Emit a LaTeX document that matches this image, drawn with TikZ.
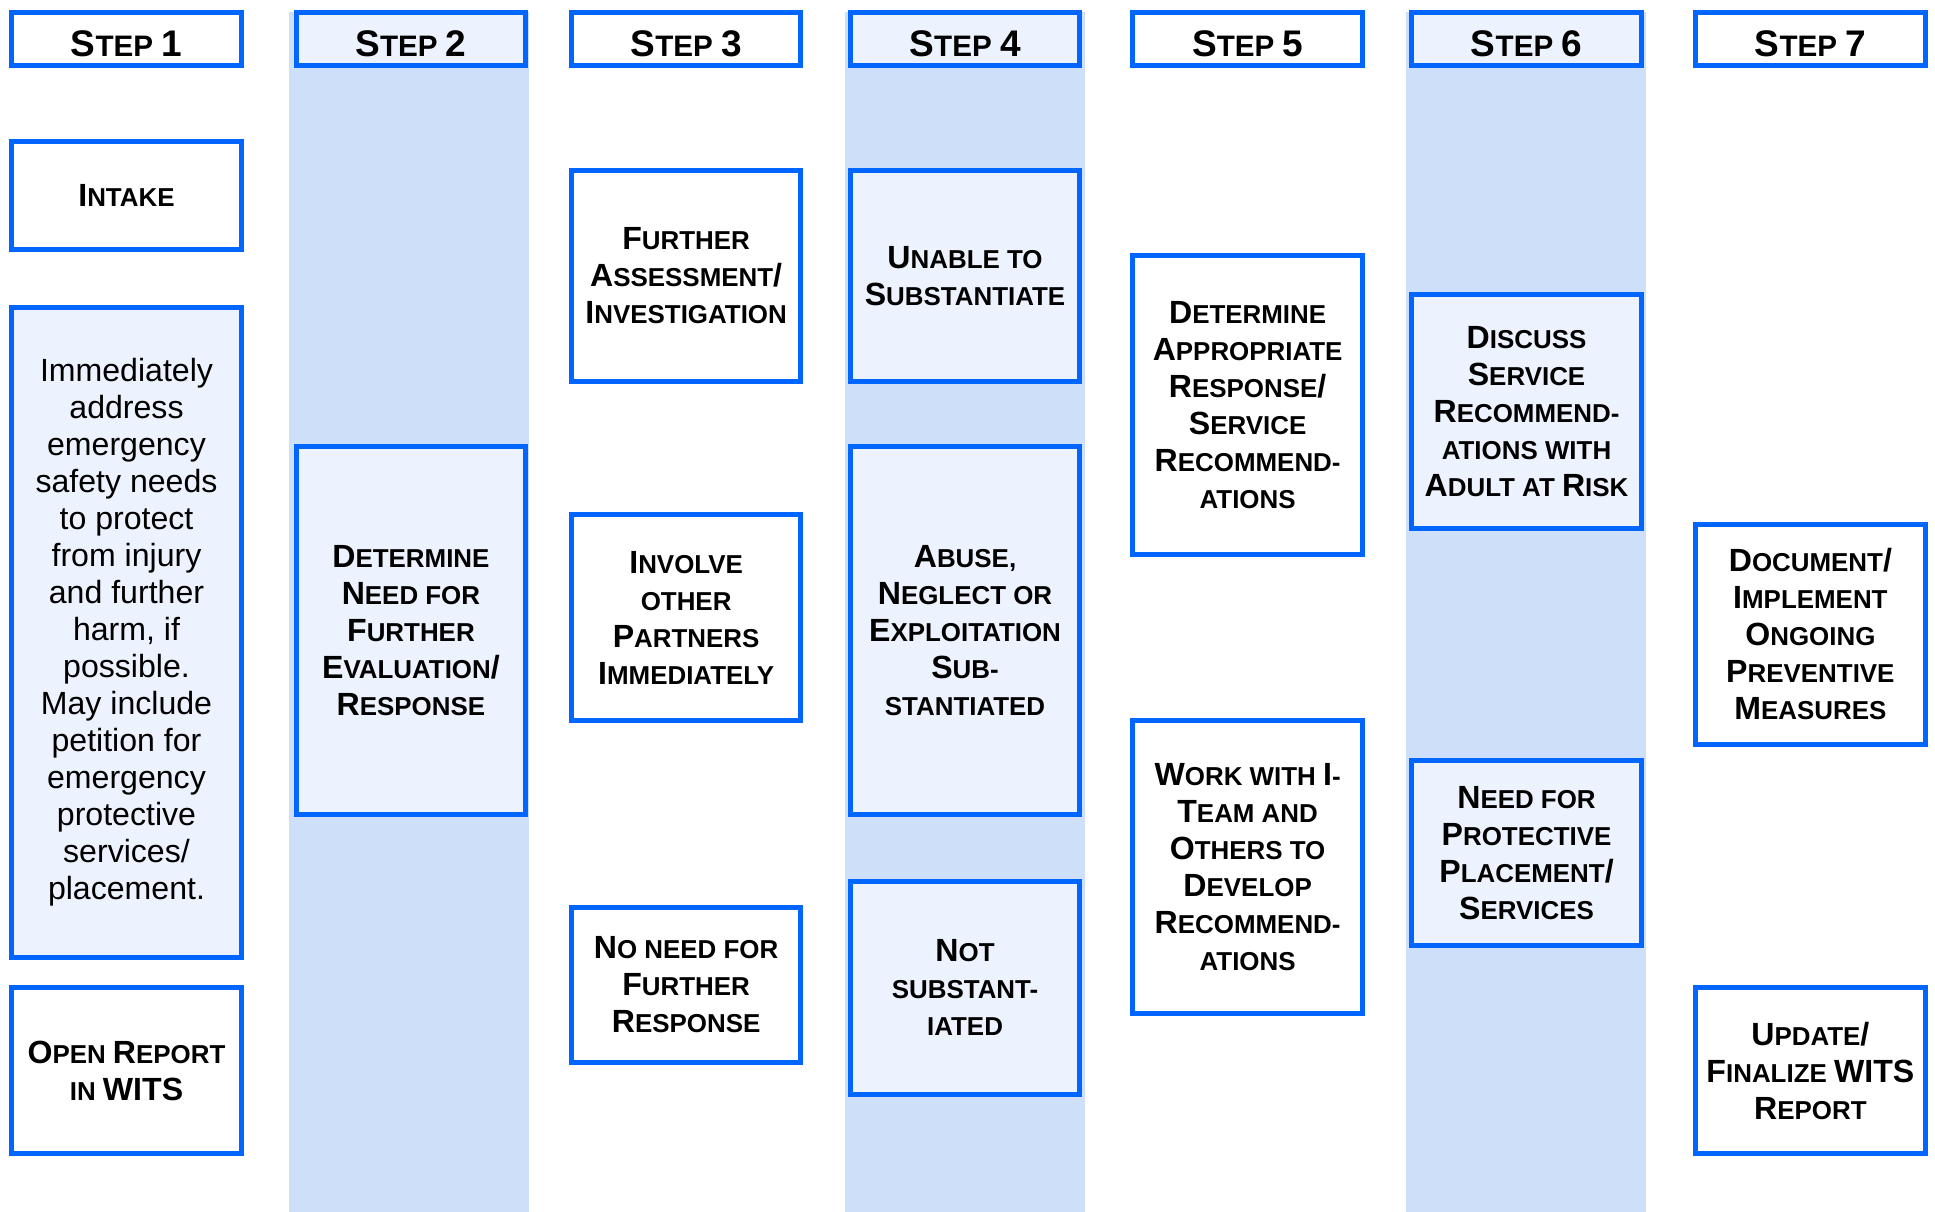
\documentclass[tikz,border=0pt]{standalone}
\usepackage{fontspec}
\setmainfont{Liberation Sans}
\definecolor{bord}{RGB}{0,102,255}
\definecolor{stripe}{RGB}{206,223,250}
\definecolor{inner}{RGB}{236,243,254}
\newcommand\Cp[1]{{\fontsize{26}{30}\selectfont #1}}
\newcommand\Hp[1]{{\fontsize{30}{34}\selectfont #1}}
\tikzset{
  box/.style={draw=bord, line width=4pt, fill=white, minimum width=186pt,
    align=center, inner sep=0pt, font=\fontsize{21}{30}\selectfont\bfseries},
  shaded/.style={fill=inner},
  headbox/.style={box, minimum height=43pt, text height=28pt, text depth=0pt,
    font=\fontsize{24}{34}\selectfont\bfseries},
  notebox/.style={box, font=\fontsize{26}{30}\selectfont},
  stripebg/.style={fill=stripe}
}
\begin{document}
\begin{tikzpicture}[x=1pt,y=-1pt]
\useasboundingbox (0,0) rectangle (1568,982);
% stripes
\fill[stripebg] (234,10) rectangle (429,982);
\fill[stripebg] (685,10) rectangle (879,982);
\fill[stripebg] (1139,10) rectangle (1334,982);
% headers
\node[headbox] (h1) at (102.5,31.5) {\Hp{S}TEP \Hp{1}};
\node[headbox,shaded] (h2) at (333,31.5) {\Hp{S}TEP \Hp{2}};
\node[headbox] (h3) at (556,31.5) {\Hp{S}TEP \Hp{3}};
\node[headbox,shaded] (h4) at (782,31.5) {\Hp{S}TEP \Hp{4}};
\node[headbox] (h5) at (1011,31.5) {\Hp{S}TEP \Hp{5}};
\node[headbox,shaded] (h6) at (1237,31.5) {\Hp{S}TEP \Hp{6}};
\node[headbox] (h7) at (1467,31.5) {\Hp{S}TEP \Hp{7}};
% column 1
\node[box, minimum height=87pt] (intake) at (102.5,158.5) {\Cp{I}NTAKE};
\node[notebox, shaded, minimum height=527pt] (immediate) at (102.5,512.5)
  {Immediately\\address\\emergency\\safety needs\\to protect\\from injury\\and further\\harm, if\\possible.\\May include\\petition for\\emergency\\protective\\services/\\placement.};
\node[box, minimum height=135pt] (openrep) at (102.5,867.5) {\Cp{O}PEN \Cp{R}EPORT\\IN \Cp{WITS}};
% column 2
\node[box, shaded, minimum height=298pt] (determine) at (333,511)
  {\Cp{D}ETERMINE\\\Cp{N}EED FOR\\\Cp{F}URTHER\\\Cp{E}VALUATION\Cp{/}\\\Cp{R}ESPONSE};
% column 3
\node[box, minimum height=171pt] (further) at (556,223.5)
  {\Cp{F}URTHER\\\Cp{A}SSESSMENT\Cp{/}\\\Cp{I}NVESTIGATION};
\node[box, minimum height=167pt] (involve) at (556,500.5)
  {\Cp{I}NVOLVE\\OTHER\\\Cp{P}ARTNERS\\\Cp{I}MMEDIATELY};
\node[box, minimum height=126pt] (noneed) at (556,798)
  {\Cp{N}O NEED FOR\\\Cp{F}URTHER\\\Cp{R}ESPONSE};
% column 4
\node[box, shaded, minimum height=171pt] (unable) at (782,223.5)
  {\Cp{U}NABLE TO\\\Cp{S}UBSTANTIATE};
\node[box, shaded, minimum height=298pt] (abuse) at (782,511)
  {\Cp{A}BUSE,\\\Cp{N}EGLECT OR\\\Cp{E}XPLOITATION\\\Cp{S}UB-\\STANTIATED};
\node[box, shaded, minimum height=173pt] (notsub) at (782,800.5)
  {\Cp{N}OT\\SUBSTANT-\\IATED};
% column 5
\node[box, minimum height=242pt] (approp) at (1011,328)
  {\Cp{D}ETERMINE\\\Cp{A}PPROPRIATE\\\Cp{R}ESPONSE\Cp{/}\\\Cp{S}ERVICE\\\Cp{R}ECOMMEND-\\ATIONS};
\node[box, minimum height=237pt] (iteam) at (1011,702.5)
  {\Cp{W}ORK WITH \Cp{I}-\\\Cp{T}EAM AND\\\Cp{O}THERS TO\\\Cp{D}EVELOP\\\Cp{R}ECOMMEND-\\ATIONS};
% column 6
\node[box, shaded, minimum height=189pt] (discuss) at (1237,333.5)
  {\Cp{D}ISCUSS\\\Cp{S}ERVICE\\\Cp{R}ECOMMEND-\\ATIONS WITH\\\Cp{A}DULT AT \Cp{R}ISK};
\node[box, shaded, minimum height=150pt] (placement) at (1237,691)
  {\Cp{N}EED FOR\\\Cp{P}ROTECTIVE\\\Cp{P}LACEMENT\Cp{/}\\\Cp{S}ERVICES};
% column 7
\node[box, minimum height=178pt] (document) at (1467,514)
  {\Cp{D}OCUMENT\Cp{/}\\\Cp{I}MPLEMENT\\\Cp{O}NGOING\\\Cp{P}REVENTIVE\\\Cp{M}EASURES};
\node[box, minimum height=135pt] (update) at (1467,867.5)
  {\Cp{U}PDATE\Cp{/}\\\Cp{F}INALIZE \Cp{WITS}\\\Cp{R}EPORT};
\end{tikzpicture}
\end{document}
